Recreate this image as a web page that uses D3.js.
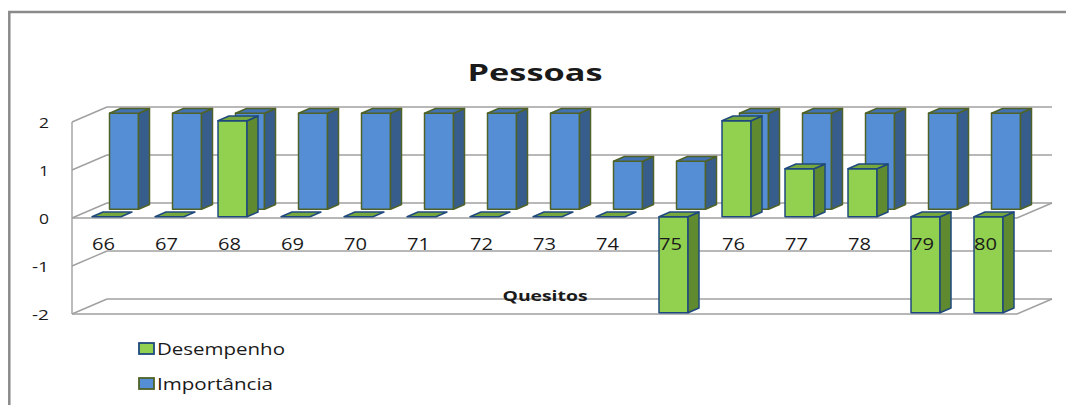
<!DOCTYPE html>
<html>
<head>
<meta charset="utf-8">
<script src="https://cdn.jsdelivr.net/npm/d3@7"></script>
<style>
body { margin: 0; background: #fff; }
text { font-family: "Open Sans", sans-serif; fill: #1a1a1a; }
</style>
</head>
<body>
<svg id="chart" width="1066" height="405"></svg>
<script>
// data
var categories = ['66', '67', '68', '69', '70', '71', '72', '73', '74', '75', '76', '77', '78', '79', '80'];
var desempenho = [0, 0, 2, 0, 0, 0, 0, 0, 0, -2, 2, 1, 1, -2, -2];
var importancia = [2, 2, 2, 2, 2, 2, 2, 2, 1, 1, 2, 2, 2, 2, 2];
var yTicks = [-2, -1, 0, 1, 2];
var seriesNames = ['Desempenho', 'Importância'];

var svg = d3.select('#chart');

// layout
var plot = {l: 72, r: 1017, t: 122, b: 314};
var depthX = 35, depthY = -15;      // wall depth offset
var barW = 29, barDepth = 0.314;

var xScale = d3.scaleBand().domain(categories).range([plot.l, plot.r]);
var yScale = d3.scaleLinear().domain([-2, 2]).range([plot.b, plot.t]);

function P(x, y, d) { return [x + depthX * d, y + depthY * d]; }

// outer frame (cropped on right / bottom)
svg.append('rect')
    .attr('x', 9.3).attr('y', 12)
    .attr('width', 1100).attr('height', 450)
    .attr('fill', 'none').attr('stroke', '#8a8a8a').attr('stroke-width', 2.5);

// walls and gridlines
var gridG = svg.append('g')
    .attr('stroke', '#a0a0a0').attr('stroke-width', 1.4).attr('fill', 'none');

var line = d3.line();
yTicks.forEach(function(v) {
    var y = yScale(v);
    gridG.append('path').attr('d', line([P(plot.l, y, 1), P(plot.r, y, 1)]));
    gridG.append('path').attr('d', line([P(plot.l, y, 0), P(plot.l, y, 1)]));
});
gridG.append('path').attr('d', line([[plot.l, yScale(2)], [plot.l, yScale(-2)]]));
[0, -2].forEach(function(v) {
    var y = yScale(v);
    gridG.append('path').attr('d', line([P(plot.l, y, 0), P(plot.r, y, 0), P(plot.r, y, 1)]));
});

// 3d bars
var barG = svg.append('g');

function drawBar(i, v, d0, c) {
    var cx = xScale(categories[i]) + xScale.bandwidth() / 2;
    var x0 = cx - barW / 2, x1 = cx + barW / 2;
    var yTop = yScale(Math.max(v, 0)), yBot = yScale(Math.min(v, 0));
    var d1 = d0 + barDepth;
    var g = barG.append('g').attr('stroke', c.stroke).attr('stroke-width', 1.5).attr('stroke-linejoin', 'round');
    if (v !== 0) {
        g.append('path').attr('fill', c.front)
            .attr('d', line([P(x0, yTop, d0), P(x1, yTop, d0), P(x1, yBot, d0), P(x0, yBot, d0)]) + 'Z');
        g.append('path').attr('fill', c.side)
            .attr('d', line([P(x1, yTop, d0), P(x1, yTop, d1), P(x1, yBot, d1), P(x1, yBot, d0)]) + 'Z');
    }
    g.append('path').attr('fill', c.top)
        .attr('d', line([P(x0, yTop, d0), P(x1, yTop, d0), P(x1, yTop, d1), P(x0, yTop, d1)]) + 'Z');
}

var blue = {front: '#558ed5', side: '#375d8c', top: '#4372b2', stroke: '#4f6228'};
var green = {front: '#92d050', side: '#5f8a2f', top: '#76a83e', stroke: '#1f497d'};

importancia.forEach(function(v, i) { drawBar(i, v, 0.586, blue); });
desempenho.forEach(function(v, i) { drawBar(i, v, 0.086, green); });

// axes
var yAxisG = svg.append('g')
    .attr('transform', 'translate(57,1)')
    .call(d3.axisLeft(yScale).tickValues(yTicks).tickSize(0).tickPadding(8).tickFormat(function(d) { return String(d); }));
yAxisG.select('.domain').remove();
yAxisG.selectAll('text')
    .style('font-size', '15px')
    .attr('textLength', function(d) { return d < 0 ? 17 : 10; })
    .attr('lengthAdjust', 'spacingAndGlyphs');

var xAxisG = svg.append('g')
    .attr('transform', 'translate(0,235)')
    .call(d3.axisBottom(xScale).tickSize(0).tickPadding(4));
xAxisG.select('.domain').remove();
xAxisG.selectAll('text')
    .style('font-size', '16px')
    .attr('textLength', 23)
    .attr('lengthAdjust', 'spacingAndGlyphs');

// titles
svg.append('text')
    .text('Pessoas')
    .attr('x', 535).attr('y', 81)
    .attr('text-anchor', 'middle')
    .style('font-size', '23px').style('font-weight', 'bold')
    .attr('textLength', 135).attr('lengthAdjust', 'spacingAndGlyphs');

svg.append('text')
    .text('Quesitos')
    .attr('x', 545).attr('y', 301)
    .attr('text-anchor', 'middle')
    .style('font-size', '15px').style('font-weight', 'bold')
    .attr('textLength', 85).attr('lengthAdjust', 'spacingAndGlyphs');

// legend
var legend = svg.append('g');
var legendColors = [green, blue];
var legendLen = [128, 116];
seriesNames.forEach(function(name, i) {
    var y = 343 + i * 35;
    legend.append('rect')
        .attr('x', 139).attr('y', y)
        .attr('width', 15).attr('height', 11)
        .attr('fill', legendColors[i].front)
        .attr('stroke', legendColors[i].stroke).attr('stroke-width', 1.8);
    legend.append('text')
        .text(name)
        .attr('x', 157).attr('y', y + 12)
        .style('font-size', '17px')
        .attr('textLength', legendLen[i]).attr('lengthAdjust', 'spacingAndGlyphs');
});
</script>
</body>
</html>
